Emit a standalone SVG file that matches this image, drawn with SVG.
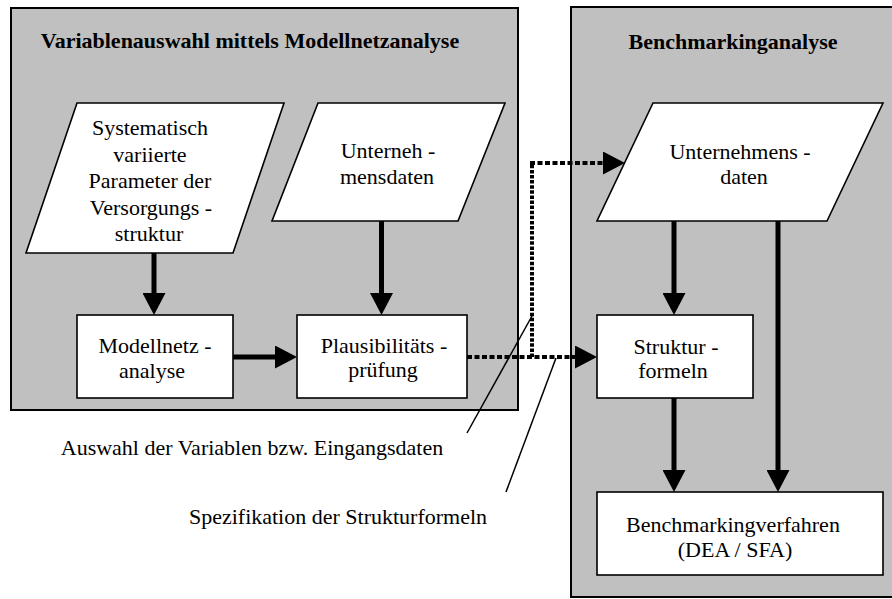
<svg xmlns="http://www.w3.org/2000/svg" width="892" height="599" viewBox="0 0 892 599">
<style>
.panel{fill:#c0c0c0;stroke:#000;stroke-width:2}
.node{fill:#fff;stroke:#000;stroke-width:1.6}
.arrow{stroke:#000;stroke-width:5;fill:none}
.dotv{stroke:#000;stroke-width:4;fill:none;stroke-dasharray:3.5 1.6}
.doth{stroke:#000;stroke-width:4;fill:none;stroke-dasharray:5 2.5}
.lead{stroke:#000;stroke-width:1.5;fill:none}
</style>
<defs>
<marker id="ah" markerUnits="userSpaceOnUse" viewBox="0 0 22 23" refX="1" refY="11.5" markerWidth="22" markerHeight="23" orient="auto">
<path d="M0,0 L22,11.5 L0,23 Z" fill="#000"/>
</marker>
</defs>

<g font-family="'Liberation Serif', 'Times New Roman', 'DejaVu Serif', serif" font-size="22" fill="#000" text-anchor="middle">
<g id="panel-left">
<rect class="panel" x="11" y="8" width="507" height="402"/>
<text x="250" y="48" font-weight="bold">Variablenauswahl mittels Modellnetzanalyse</text>
</g>
<g id="panel-right">
<rect class="panel" x="571" y="7" width="330" height="590"/>
<text x="733" y="49" font-weight="bold">Benchmarkinganalyse</text>
</g>

<g id="node-parameter">
<polygon class="node" points="77,103 284,103 233,253 26,253"/>
<text x="150" y="135">Systematisch</text>
<text x="150" y="161.5">variierte</text>
<text x="150" y="188">Parameter der</text>
<text x="151" y="214.5">Versorgungs -</text>
<text x="149" y="241">struktur</text>
</g>
<g id="node-unternehmensdaten-left">
<polygon class="node" points="318,103 505,103 458,221 272,221"/>
<text x="388" y="158">Unterneh -</text>
<text x="387" y="184">mensdaten</text>
</g>
<g id="node-modellnetz">
<rect class="node" x="77" y="315" width="156" height="83"/>
<text x="155" y="353">Modellnetz -</text>
<text x="152" y="378">analyse</text>
</g>
<g id="node-plausibilitaet">
<rect class="node" x="297" y="315" width="170" height="83"/>
<text x="384" y="352.5">Plausibilitäts -</text>
<text x="383" y="377">prüfung</text>
</g>
<g id="node-unternehmensdaten-right">
<polygon class="node" points="653,103 883,103 827,221 597,221"/>
<text x="740" y="159">Unternehmens -</text>
<text x="744" y="184">daten</text>
</g>
<g id="node-strukturformeln">
<rect class="node" x="597" y="315" width="156" height="83"/>
<text x="676" y="354">Struktur -</text>
<text x="673" y="378">formeln</text>
</g>
<g id="node-benchmarkingverfahren">
<rect class="node" x="597" y="492" width="286" height="83"/>
<text x="733" y="532">Benchmarkingverfahren</text>
<text x="735" y="557">(DEA / SFA)</text>
</g>

<g id="connectors">
<line class="arrow" x1="154" y1="253" x2="154" y2="294" marker-end="url(#ah)"/>
<line class="arrow" x1="381.5" y1="221" x2="381.5" y2="294" marker-end="url(#ah)"/>
<line class="arrow" x1="233" y1="357" x2="276" y2="357" marker-end="url(#ah)"/>
<line class="arrow" x1="674" y1="221" x2="674" y2="294" marker-end="url(#ah)"/>
<line class="arrow" x1="674" y1="398" x2="674" y2="471" marker-end="url(#ah)"/>
<line class="arrow" x1="778" y1="221" x2="778" y2="471" marker-end="url(#ah)"/>
<line class="doth" x1="467" y1="357" x2="576" y2="357" marker-end="url(#ah)"/>
<line class="dotv" x1="532" y1="357" x2="532" y2="161"/>
<line class="doth" x1="530" y1="163" x2="604" y2="163" marker-end="url(#ah)"/>
<line class="lead" x1="532" y1="316" x2="467" y2="433"/>
<line class="lead" x1="556" y1="358" x2="506" y2="492"/>
</g>

<g id="labels">
<text x="252" y="455">Auswahl der Variablen bzw. Eingangsdaten</text>
<text x="338" y="524">Spezifikation der Strukturformeln</text>
</g>
</g>
</svg>
